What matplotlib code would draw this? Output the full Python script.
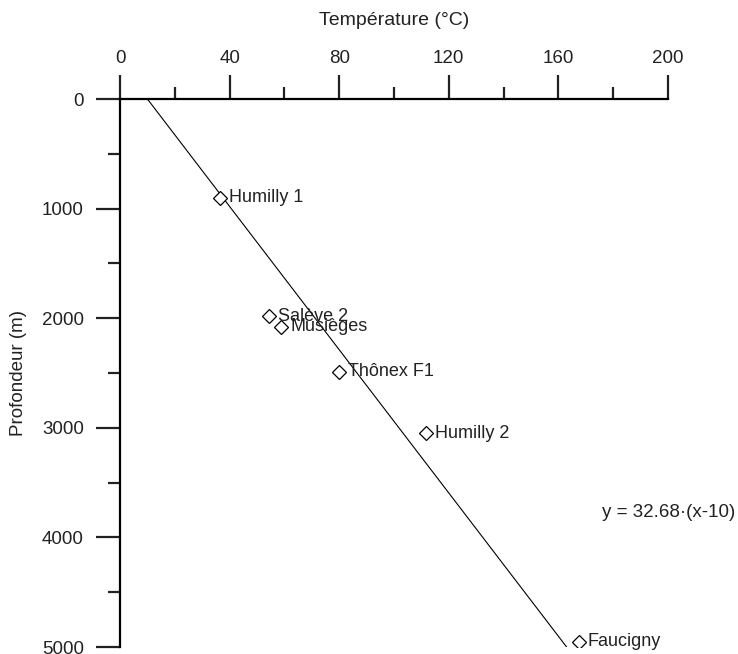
import matplotlib
matplotlib.use("Agg")
import matplotlib.pyplot as plt
import numpy as np

plt.rcParams['font.family'] = ['Liberation Sans', 'DejaVu Sans']

# Data
wells = ["Humilly 1", "Salève 2", "Musièges", "Thônex F1", "Humilly 2", "Faucigny"]
temperature = [36.5, 54.5, 58.8, 80.0, 111.8, 167.5]
depth = [900, 1980, 2080, 2490, 3050, 4950]
gradient = 32.68
t0 = 10
equation = "y = 32.68·(x-10)"

fig = plt.figure(figsize=(7.38, 6.54), dpi=100)
ax = fig.add_axes([120/738, 1-647/654, 548/738, 548/654])

# Regression line
line_depth = np.array([0, 5000])
line_temp = t0 + line_depth / gradient
ax.plot(line_temp, line_depth, color='black', lw=0.8, zorder=2)

ax.plot(temperature, depth, linestyle='none', marker='D', markersize=7.5,
        markerfacecolor='white', markeredgecolor='black', markeredgewidth=0.9, zorder=3)
for t, d, name in zip(temperature, depth, wells):
    ax.annotate(name, (t, d), xytext=(6.5, 0), textcoords='offset points',
                ha='left', va='center', fontsize=13, color='#222222', zorder=4)

ax.text(176, 3770, equation, ha='left', va='center', fontsize=13.5, color='#222222')

ax.set_xlim(0, 200)
ax.set_ylim(5000, 0)
ax.xaxis.set_ticks_position('top')
ax.xaxis.set_label_position('top')
ax.set_xticks(np.arange(0, 201, 40))
ax.set_xticks(np.arange(0, 201, 20), minor=True)
ax.set_yticks(np.arange(0, 5001, 1000))
ax.set_yticks(np.arange(0, 5001, 500), minor=True)

for s in ['right', 'bottom']:
    ax.spines[s].set_visible(False)
for s in ['left', 'top']:
    ax.spines[s].set_linewidth(1.6)

ax.tick_params(which='major', direction='out', length=17, width=1.6, labelsize=13.5,
               colors='#222222')
ax.tick_params(which='minor', direction='out', length=8.5, width=1.6, colors='#222222')
ax.tick_params(axis='x', which='both', top=True, bottom=False, pad=6)
ax.tick_params(axis='y', which='major', pad=9)

ax.set_xlabel("Température (°C)", fontsize=14, color='#222222', labelpad=18)
ax.set_ylabel("Profondeur (m)", fontsize=13.5, color='#222222', labelpad=11)

fig.savefig("out.png", dpi=100)
